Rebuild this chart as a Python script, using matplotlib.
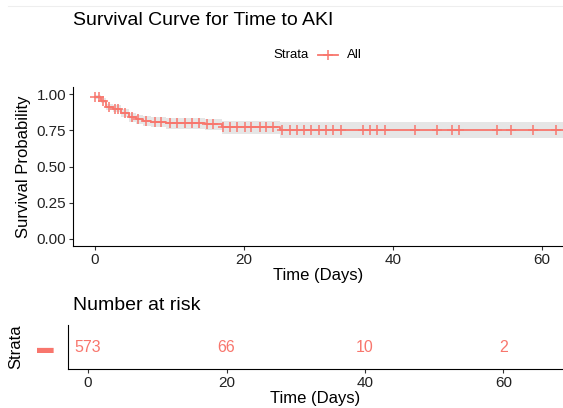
import numpy as np
import matplotlib
matplotlib.use('Agg')
import matplotlib.pyplot as plt

plt.rcParams['font.family'] = ['Liberation Sans', 'DejaVu Sans']

red = '#F8766D'

# Kaplan-Meier step curve (time at which each level starts)
step_t = [0, 0.8, 1.5, 2.4, 3.5, 4.5, 5.5, 6.5, 7.5, 9.5, 14.8, 17.0, 24.8, 63]
surv = [0.981, 0.955, 0.912, 0.900, 0.868, 0.840, 0.826, 0.816, 0.810, 0.798, 0.791, 0.770, 0.750, 0.750]
lower = [0.970, 0.938, 0.889, 0.875, 0.840, 0.809, 0.793, 0.782, 0.775, 0.761, 0.752, 0.728, 0.695, 0.695]
upper = [0.992, 0.972, 0.935, 0.925, 0.896, 0.871, 0.859, 0.850, 0.845, 0.835, 0.830, 0.812, 0.810, 0.810]

# censoring marks
censor_t = [0, 0.6, 1.1, 1.9, 2.7, 3.1, 4.0, 4.9, 5.8, 6.9, 8.1, 8.9, 10.1, 11.0,
            12.1, 13.0, 13.9, 15.0, 15.9, 17.2, 18.1, 19.0, 20.1, 21.0, 22.1,
            23.0, 23.9, 25.1, 26.2, 27.1, 28.1, 29.0, 30.0, 31.0, 32.0, 33.0,
            35.9, 36.9, 37.9, 38.9, 43.0, 45.9, 47.9, 48.9, 53.9, 55.8, 58.8, 61.9]

# risk table
risk_t = [0, 20, 40, 60]
risk_n = [573, 66, 10, 2]

fig = plt.figure(figsize=(5.63, 4.08), dpi=100)

# --- survival curve ---
ax = fig.add_axes([73/563, 162/408, 1 - 73/563, 159/408])
ax.fill_between(step_t, lower, upper, step='post', color='#e6e6e6', lw=0)
ax.step(step_t, surv, where='post', color=red, lw=1.3)
idx = np.searchsorted(step_t, censor_t, side='right') - 1
ax.plot(censor_t, np.array(surv)[idx], '+', color=red, ms=6.5, mew=1.1)
ax.set_xlim(-2.95, 62.8)
ax.set_ylim(-0.05, 1.05)
ax.set_yticks([0, 0.25, 0.5, 0.75, 1.0])
ax.set_yticklabels(['0.00', '0.25', '0.50', '0.75', '1.00'])
ax.set_xticks([0, 20, 40, 60])
ax.set_xlabel('Time (Days)', fontsize=12, labelpad=1)
ax.set_ylabel('Survival Probability', fontsize=12, labelpad=4)
for s in ['top', 'right']:
    ax.spines[s].set_visible(False)
ax.tick_params(labelsize=11, length=3, width=0.8, colors='#333333', labelcolor='#222222', pad=2)
ax.text(0, 1.42, 'Survival Curve for Time to AKI', transform=ax.transAxes,
        fontsize=14, va='center', ha='left')

# legend
fig.text(273/563, 1 - 55/408, 'Strata', fontsize=9.5, va='center', ha='left')
fig.lines.append(plt.Line2D([318/563, 338/563], [1 - 55/408] * 2, color=red, lw=1.3,
                            transform=fig.transFigure))
fig.lines.append(plt.Line2D([328/563], [1 - 55/408], color=red, marker='+', ms=6.5, mew=1.1,
                            transform=fig.transFigure))
fig.text(347/563, 1 - 55/408, 'All', fontsize=9.5, va='center', ha='left')

# faint frame line at top
fig.lines.append(plt.Line2D([0.015, 1], [1 - 6/408] * 2, color='#eeeeee', lw=0.8,
                            transform=fig.transFigure))

# --- number at risk ---
ax2 = fig.add_axes([68/563, 39/408, 1 - 68/563, 44/408])
for t, n in zip(risk_t, risk_n):
    ax2.text(t, 0, str(n), color=red, fontsize=11.5, ha='center', va='center')
ax2.set_xlim(-2.9, 68.6)
ax2.set_ylim(-1, 1)
ax2.set_xticks(risk_t)
ax2.set_yticks([0])
ax2.set_yticklabels(['\u25ac'])
ax2.get_yticklabels()[0].set_color(red)
ax2.get_yticklabels()[0].set_fontsize(12)
ax2.tick_params(axis='y', length=0, pad=10)
ax2.tick_params(axis='x', labelsize=11, length=3, width=0.8, colors='#333333', labelcolor='#222222', pad=2)
for s in ['top', 'right']:
    ax2.spines[s].set_visible(False)
ax2.set_xlabel('Time (Days)', fontsize=12, labelpad=1)
ax2.set_ylabel('Strata', fontsize=12, labelpad=10)
ax2.text(0.01, 1.45, 'Number at risk', transform=ax2.transAxes,
         fontsize=14, va='center', ha='left')

fig.savefig('out.png', dpi=100)
